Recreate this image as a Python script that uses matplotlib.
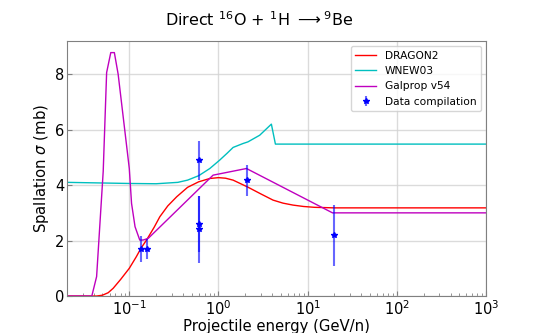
import numpy as np
import matplotlib
matplotlib.use("Agg")
import matplotlib.pyplot as plt

# DRAGON2 curve
dragon_E = [0.02, 0.043, 0.05, 0.058, 0.066, 0.08, 0.1, 0.12, 0.135, 0.156, 0.19, 0.22, 0.27,
            0.34, 0.45, 0.6, 0.8, 1.0, 1.2, 1.46, 2.1, 3.0, 4.09, 5.3, 6.85, 9.0, 11.9, 20, 1000]
dragon_s = [0.0, 0.0, 0.03, 0.12, 0.28, 0.6, 1.0, 1.42, 1.72, 2.02, 2.48, 2.86, 3.25,
            3.58, 3.92, 4.12, 4.24, 4.27, 4.25, 4.18, 3.94, 3.68, 3.46, 3.35, 3.28, 3.23, 3.20, 3.18, 3.18]

# WNEW03 curve
wnew_E = [0.02, 0.1, 0.2, 0.35, 0.45, 0.6, 0.8, 1.03, 1.25, 1.46, 1.88, 2.14, 2.9, 3.92, 4.35, 1000]
wnew_s = [4.10, 4.06, 4.05, 4.10, 4.18, 4.34, 4.60, 4.90, 5.15, 5.36, 5.50, 5.56, 5.80, 6.20, 5.48, 5.48]

# Galprop v54 curve
galp_E = [0.02, 0.038, 0.043, 0.051, 0.0557, 0.062, 0.068, 0.075, 0.1, 0.106, 0.116,
          0.131, 0.143, 0.163, 0.87, 2.06, 19, 1000]
galp_s = [0.0, 0.0, 0.7, 4.5, 8.06, 8.78, 8.78, 8.0, 4.6, 3.34, 2.5,
          2.02, 2.02, 2.08, 4.36, 4.60, 3.00, 3.00]

# data compilation
data_E = [0.135, 0.156, 0.6, 0.6, 0.6, 2.1, 19.5]
data_s = [1.70, 1.70, 4.90, 2.60, 2.40, 4.17, 2.19]
data_err = [0.48, 0.37, 0.70, 1.0, 1.2, 0.55, 1.1]

fig = plt.figure(figsize=(5.4, 3.33), dpi=100)
ax = fig.add_axes([0.124, 0.111, 0.776, 0.766])

ax.plot(dragon_E, dragon_s, color="red", lw=1.0, label="DRAGON2")
ax.plot(wnew_E, wnew_s, color="c", lw=1.0, label="WNEW03")
ax.plot(galp_E, galp_s, color="m", lw=1.0, label="Galprop v54")
ax.errorbar(data_E, data_s, yerr=data_err, fmt="*", color="b", ms=4,
            elinewidth=1.5, ecolor=(0, 0, 1, 0.6), label="Data compilation")

ax.set_xscale("log")
ax.set_xlim(0.02, 1000)
ax.set_ylim(0, 9.2)
ax.grid(True, color="lightgray", lw=1.0, alpha=0.8)
for sp in ax.spines.values():
    sp.set_color("gray")
ax.tick_params(which="both", direction="in", labelsize=10.5, pad=2, color="gray")

fig.text(0.48, 0.94, r"Direct $^{16}$O + $^{1}$H $\longrightarrow$$^{9}$Be",
         fontsize=11.5, ha="center", va="center")
ax.set_xlabel("Projectile energy (GeV/n)", fontsize=10.7, labelpad=1)
ax.set_ylabel(r"Spallation $\sigma$ (mb)", fontsize=10.7, labelpad=3)
ax.legend(loc="upper right", fontsize=7.7)

fig.savefig("out.png", dpi=100)
